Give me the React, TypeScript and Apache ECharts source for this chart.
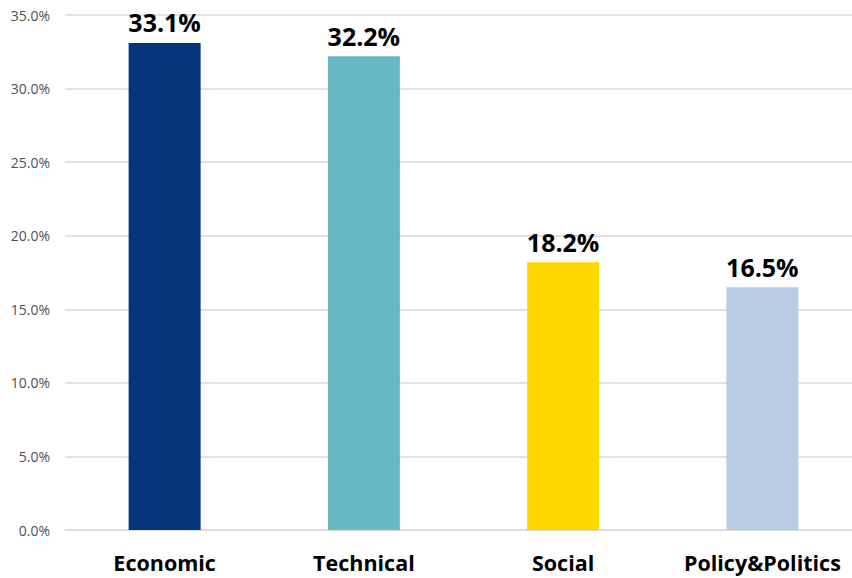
import React, { useEffect, useRef } from "react";
import * as echarts from "echarts";

const categories = ["Economic", "Technical", "Social", "Policy&Politics"];
const values = [33.1, 32.2, 18.2, 16.5];
const colors = ["#06357A", "#66B8C3", "#FFD700", "#B8CCE4"];

export default function App() {
  const ref = useRef<HTMLDivElement>(null);
  useEffect(() => {
    const chart = echarts.init(ref.current!, null, { renderer: "svg" });
    chart.setOption({
      animation: false,
      grid: { left: 65, right: 8, top: 15, bottom: 48, containLabel: false },
      xAxis: {
        type: "category",
        data: categories,
        axisTick: { show: false },
        axisLine: { lineStyle: { color: "#D9D9D9", width: 1.5 } },
        axisLabel: {
          interval: 0,
          hideOverlap: false,
          color: "#000",
          fontFamily: "Open Sans",
          fontWeight: "bold",
          fontSize: 21.5,
          margin: 21,
        },
      },
      yAxis: {
        type: "value",
        min: 0,
        max: 35,
        interval: 5,
        axisLine: { show: false },
        axisTick: { show: false },
        splitLine: { lineStyle: { color: "#D9D9D9", width: 1.5 } },
        axisLabel: {
          color: "#505050",
          fontFamily: "Open Sans",
          fontSize: 14,
          margin: 15,
          formatter: (v: number) => v.toFixed(1) + "%",
        },
      },
      series: [
        {
          type: "bar",
          barWidth: 72,
          data: values.map((v, i) => ({ value: v, itemStyle: { color: colors[i] } })),
          label: {
            show: true,
            position: "top",
            distance: 8,
            color: "#000",
            fontFamily: "Open Sans",
            fontWeight: "bold",
            fontSize: 25,
            formatter: (p: any) => p.value.toFixed(1) + "%",
          },
        },
      ],
    });
    return () => chart.dispose();
  }, []);
  return (
    <div style={{ width: 852, height: 578, position: "absolute", left: 0, top: 0, overflow: "hidden" }}>
      <div ref={ref} style={{ width: 870, height: 578 }} />
    </div>
  );
}
